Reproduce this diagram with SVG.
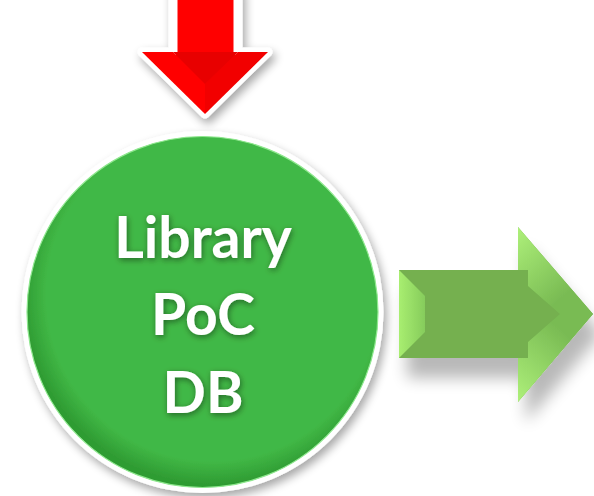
<svg xmlns="http://www.w3.org/2000/svg" width="594" height="496" viewBox="0 0 594 496">
<defs>
<style>
.lbl{font-family:Lato,"Open Sans","Liberation Sans",sans-serif;font-weight:bold;font-size:57px;fill:#ffffff;text-anchor:middle}
</style>
<filter id="shadow" x="-30%" y="-30%" width="160%" height="170%">
<feGaussianBlur in="SourceAlpha" stdDeviation="5"/>
<feOffset dx="3" dy="5" result="b"/>
<feComponentTransfer><feFuncA type="linear" slope="0.35"/></feComponentTransfer>
<feMerge><feMergeNode/><feMergeNode in="SourceGraphic"/></feMerge>
</filter>
<filter id="ashadow" x="-30%" y="-30%" width="170%" height="190%">
<feGaussianBlur in="SourceAlpha" stdDeviation="8"/>
<feOffset dx="8" dy="20" result="b"/>
<feComponentTransfer><feFuncA type="linear" slope="0.28"/></feComponentTransfer>
<feMerge><feMergeNode/><feMergeNode in="SourceGraphic"/></feMerge>
</filter>
<filter id="tshadow" x="-20%" y="-30%" width="140%" height="160%">
<feGaussianBlur in="SourceAlpha" stdDeviation="3"/>
<feOffset dx="1" dy="2"/>
<feComponentTransfer><feFuncA type="linear" slope="0.45"/></feComponentTransfer>
<feMerge><feMergeNode/><feMergeNode in="SourceGraphic"/></feMerge>
</filter>
<radialGradient id="inner" cx="0.53" cy="0.45" r="0.54">
<stop offset="0.88" stop-color="#41b846"/>
<stop offset="1" stop-color="#2f9c33"/>
</radialGradient>
<linearGradient id="redHead" x1="0" y1="0" x2="1" y2="0">
<stop offset="0" stop-color="#ff0000"/>
<stop offset="0.45" stop-color="#dc0000"/>
<stop offset="0.55" stop-color="#dc0000"/>
<stop offset="1" stop-color="#ff0000"/>
</linearGradient>
<linearGradient id="gHeadTop" x1="0" y1="0" x2="0.6" y2="0.8">
<stop offset="0" stop-color="#aef07a"/>
<stop offset="1" stop-color="#79bb53"/>
</linearGradient>
<linearGradient id="gHeadBot" x1="0" y1="1" x2="0.6" y2="0.2">
<stop offset="0" stop-color="#aef07a"/>
<stop offset="1" stop-color="#79bb53"/>
</linearGradient>
<linearGradient id="gLeft" x1="0" y1="0" x2="1" y2="0">
<stop offset="0" stop-color="#a8ee70"/>
<stop offset="1" stop-color="#86cc5c"/>
</linearGradient>
</defs>

<g id="red-arrow" filter="url(#shadow)">
<polygon points="173,-10 238,-10 238,52 268,52 205,114 142,52 173,52" fill="#ff0000" stroke="#ffffff" stroke-width="9" stroke-linejoin="round"/>
<polygon points="142,52 173,52 205,84 205,114" fill="#ff0000"/>
<polygon points="238,52 268,52 205,114 205,84" fill="#f20000"/>
<polygon points="173,52 205,84 238,52" fill="#e80000"/>
</g>

<g id="node-library" filter="url(#shadow)">
<circle cx="202.5" cy="312" r="181" fill="#ffffff"/>
<circle cx="202.5" cy="312" r="175.5" fill="url(#inner)" stroke="#8fe88f" stroke-width="1.2"/>
<g filter="url(#tshadow)">
<text class="lbl" x="203" y="258">Library</text>
<text class="lbl" x="203" y="335">PoC</text>
<text class="lbl" x="203" y="413">DB</text>
</g>
</g>

<g id="connectors">
<g id="green-arrow" filter="url(#ashadow)">
<polygon points="399,270 518,270 518,227 593,314 518,402 518,358 399,358" fill="#74b04f"/>
<polygon points="399,270 425,296 425,332 399,358" fill="url(#gLeft)"/>
<polygon points="518,227 593,314 560,314 528,286 528,270 518,270" fill="url(#gHeadTop)"/>
<polygon points="518,402 593,314 560,314 528,342 528,358 518,358" fill="url(#gHeadBot)"/>
</g>
</g>
</svg>
